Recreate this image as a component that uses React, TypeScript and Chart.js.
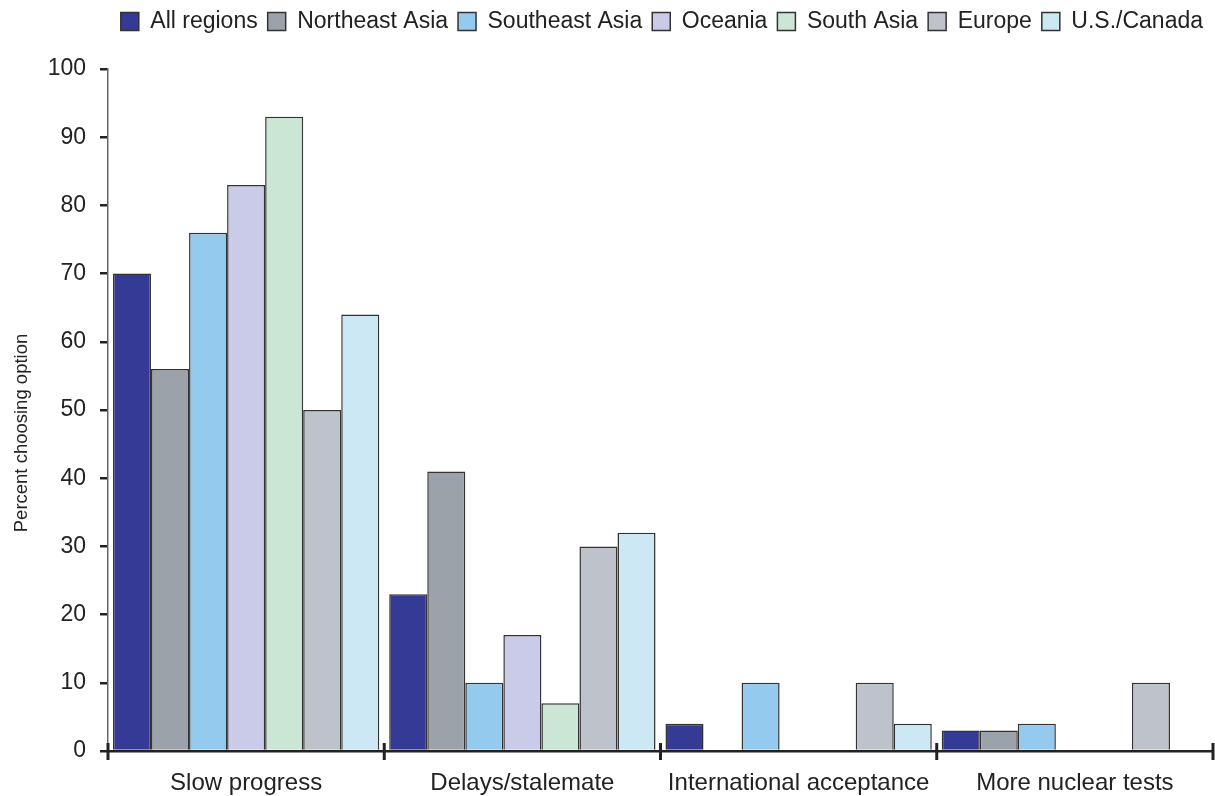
import React, { useEffect, useRef } from "react";
import { Chart, registerables } from "chart.js";

Chart.register(...registerables);

const categories = ["Slow progress", "Delays/stalemate", "International acceptance", "More nuclear tests"];
const seriesNames = ["All regions", "Northeast Asia", "Southeast Asia", "Oceania", "South Asia", "Europe", "U.S./Canada"];
const allRegions = [70, 23, 4, 3];
const northeastAsia = [56, 41, 0, 3];
const southeastAsia = [76, 10, 10, 4];
const oceania = [83, 17, 0, 0];
const southAsia = [93, 7, 0, 0];
const europe = [50, 30, 10, 10];
const usCanada = [64, 32, 4, 0];
const seriesValues = [allRegions, northeastAsia, southeastAsia, oceania, southAsia, europe, usCanada];
const seriesColors = ["#353a96", "#9ba2aa", "#94caee", "#c9cbe9", "#cbe6d5", "#bec2ca", "#cbe8f4"];
const yTicks = [0, 10, 20, 30, 40, 50, 60, 70, 80, 90, 100];
const yTitle = "Percent choosing option";

const FONT = "'Liberation Sans', Arial, Helvetica, sans-serif";

const legendHeightPlugin = {
  id: "legendHeightPlugin",
  beforeInit(chart: any) {
    const legend = chart.legend;
    if (!legend) return;
    const origFit = legend.fit;
    legend.fit = function () {
      origFit.call(this);
      this.height = 69;
    };
  },
};

const yTitlePlugin = {
  id: "yTitlePlugin",
  afterDraw(chart: any) {
    const ctx = chart.ctx;
    const y = chart.scales.y;
    const cy = (y.top + y.bottom) / 2 + 23;
    ctx.save();
    ctx.translate(22, cy);
    ctx.rotate(-Math.PI / 2);
    ctx.font = `18.5px ${FONT}`;
    ctx.fillStyle = "#222";
    ctx.textAlign = "center";
    ctx.textBaseline = "middle";
    ctx.fillText(yTitle, 0, 0);
    ctx.restore();
  },
};

const xTickPlugin = {
  id: "xTickPlugin",
  afterDraw(chart: any) {
    const x = chart.scales.x;
    const ctx = chart.ctx;
    const n = categories.length;
    const y = x.top;
    const half = x.width / n / 2;
    ctx.save();
    ctx.strokeStyle = "#222";
    ctx.lineWidth = 3;
    for (let i = 0; i <= n; i++) {
      const px = i < n ? x.getPixelForValue(i) - half : x.getPixelForValue(n - 1) + half;
      ctx.beginPath();
      ctx.moveTo(px, y - 8);
      ctx.lineTo(px, y + 9);
      ctx.stroke();
    }
    ctx.restore();
  },
};

export default function App() {
  const ref = useRef<HTMLCanvasElement | null>(null);
  useEffect(() => {
    if (!ref.current) return;
    const chart = new Chart(ref.current, {
      type: "bar",
      data: {
        labels: categories,
        datasets: seriesNames.map((name, i) => ({
          label: name,
          data: seriesValues[i],
          backgroundColor: seriesColors[i],
          borderColor: "#333",
          borderWidth: 1.5,
          borderSkipped: "bottom" as any,
          categoryPercentage: 0.964,
          barPercentage: 1,
        })),
      },
      options: {
        animation: false,
        responsive: true,
        maintainAspectRatio: false,
        layout: { padding: { left: 0, right: 2, top: 0, bottom: 0 } },
        plugins: {
          legend: {
            position: "top",
            align: "end",
            labels: {
              font: { family: FONT, size: 23 },
              color: "#222",
              boxWidth: 18,
              boxHeight: 18,
              padding: 10,
            },
          },
          tooltip: { enabled: false },
        },
        scales: {
          x: {
            grid: { display: false },
            border: { color: "#222", width: 2.5 },
            afterFit: (scale: any) => {
              scale.height = 45;
            },
            ticks: {
              font: { family: FONT, size: 24 },
              color: "#222",
              padding: 10,
              maxRotation: 0,
              autoSkip: false,
            },
          },
          y: {
            min: 0,
            max: 100,
            afterBuildTicks: (scale: any) => {
              scale.ticks = yTicks.map((v) => ({ value: v }));
            },
            afterFit: (scale: any) => {
              scale.width = 108;
            },
            grid: {
              drawOnChartArea: false,
              drawTicks: true,
              tickLength: 8,
              color: "#222",
              lineWidth: 2.5,
            },
            border: { color: "#666", width: 1.5 },
            ticks: {
              font: { family: FONT, size: 23 },
              color: "#222",
              padding: 14,
            },
            title: { display: false },
          },
        },
      },
      plugins: [legendHeightPlugin, xTickPlugin, yTitlePlugin],
    });
    return () => chart.destroy();
  }, []);
  return (
    <div style={{ position: "absolute", left: 0, top: 0, width: 1215, height: 796, background: "#fff" }}>
      <canvas ref={ref} />
    </div>
  );
}
